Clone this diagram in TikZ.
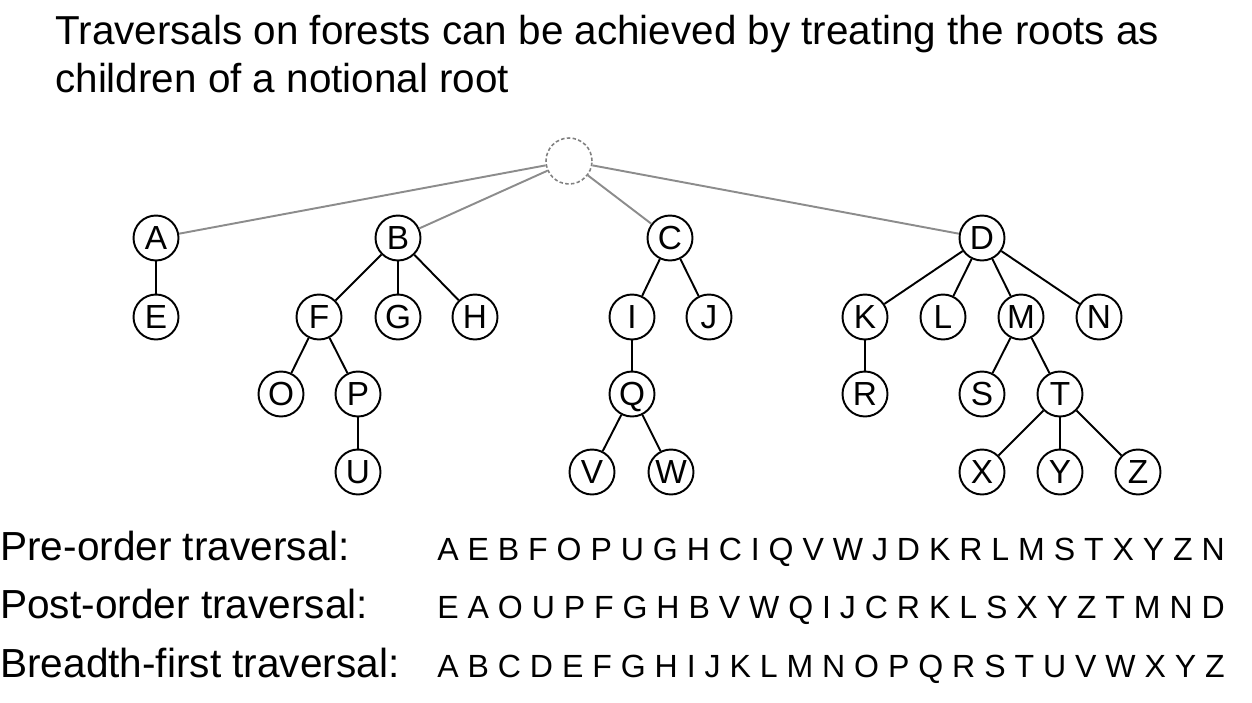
\documentclass[tikz,border=0pt]{standalone}
\usepackage{fontspec}
\setmainfont{Liberation Sans}

\begin{document}
\begin{tikzpicture}[x=0.02cm,y=-0.02cm]

\tikzset{vertex/.style={draw=black,circle,line width=1.1pt,minimum size=0.9cm,inner sep=0pt,
    font=\fontsize{19}{23}\selectfont,text height=13.6pt,text depth=0pt},
  notional/.style={draw=gray,circle,line width=0.9pt,dash pattern=on 2pt off 1.3pt,minimum size=0.92cm,inner sep=0pt},
  branch/.style={line width=1.1pt,draw=black},
  rootbranch/.style={line width=1.1pt,draw=gray!90},
  heading/.style={anchor=base west,inner sep=0pt,font=\fontsize{23}{28}\selectfont},
  travname/.style={anchor=base west,inner sep=0pt,font=\fontsize{23.1}{27}\selectfont},
  travseq/.style={anchor=base west,inner sep=0pt,font=\fontsize{18.25}{22}\selectfont}}

\useasboundingbox (0,0) rectangle (1252,703);

%% Title
\node[heading] (title1) at (55,45) {Traversals on forests can be achieved by treating the roots as};
\node[heading] (title2) at (55,92) {children of a notional root};

%% Notional root
\node[notional] (root) at (569,161) {};

%% Roots of the forest
\node[vertex] (A) at (156,238) {A};
\node[vertex] (B) at (398,238) {B};
\node[vertex] (C) at (670,238) {C};
\node[vertex] (D) at (982,238) {D};

%% Second level
\node[vertex] (E) at (156,317) {E};
\node[vertex] (F) at (319,317) {F};
\node[vertex] (G) at (398,317) {G};
\node[vertex] (H) at (475,317) {H};
\node[vertex] (I) at (632,317) {I};
\node[vertex] (J) at (709,317) {J};
\node[vertex] (K) at (865,317) {K};
\node[vertex] (L) at (943,317) {L};
\node[vertex] (M) at (1021,317) {M};
\node[vertex] (N) at (1099,317) {N};

%% Third level
\node[vertex] (O) at (281,394) {O};
\node[vertex] (P) at (358,394) {P};
\node[vertex] (Q) at (632,394) {Q};
\node[vertex] (R) at (865,394) {R};
\node[vertex] (S) at (982,394) {S};
\node[vertex] (T) at (1060,394) {T};

%% Fourth level
\node[vertex] (U) at (358,472) {U};
\node[vertex] (V) at (592,472) {V};
\node[vertex] (W) at (671,472) {W};
\node[vertex] (X) at (982,472) {X};
\node[vertex] (Y) at (1060,472) {Y};
\node[vertex] (Z) at (1138,472) {Z};

%% Edges
\foreach \r in {A,B,C,D}{
    \draw[rootbranch] (root) -- (\r);
}
\foreach \p/\c in {A/E,B/F,B/G,B/H,C/I,C/J,D/K,D/L,D/M,D/N,F/O,F/P,P/U,I/Q,Q/V,Q/W,K/R,M/S,M/T,T/X,T/Y,T/Z}{
    \draw[branch] (\p) -- (\c);
}

%% Traversals
\node[travname] (prename) at (0,560) {Pre-order traversal:};
\node[travname] (postname) at (0,618) {Post-order traversal:};
\node[travname] (bfsname) at (0,677) {Breadth-first traversal:};

\node[travseq] (preseq) at (437,560) {A E B F O P U G H C I Q V W J D K R L M S T X Y Z N};
\node[travseq] (postseq) at (437,618) {E A O U P F G H B V W Q I J C R K L S X Y Z T M N D};
\node[travseq] (bfsseq) at (437,677) {A B C D E F G H I J K L M N O P Q R S T U V W X Y Z};

\end{tikzpicture}
\end{document}
